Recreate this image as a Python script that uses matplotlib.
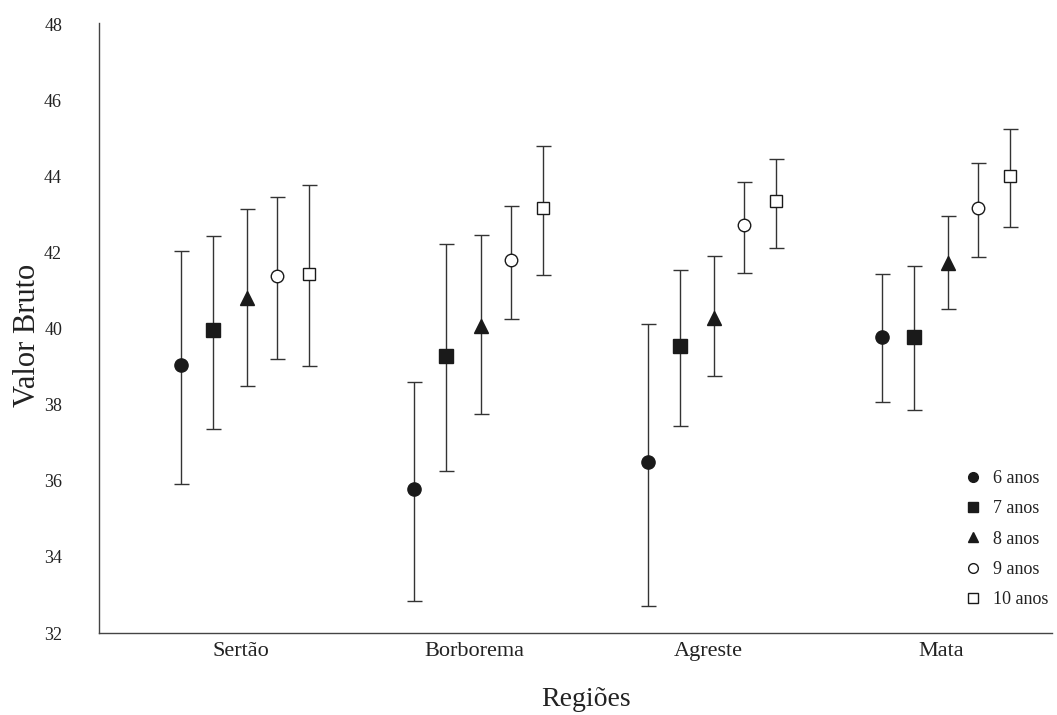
import matplotlib
matplotlib.use("Agg")
import matplotlib.pyplot as plt
from matplotlib.lines import Line2D
import numpy as np

plt.rcParams['font.family'] = ['Liberation Serif', 'DejaVu Serif']

regions = ["Sertão", "Borborema", "Agreste", "Mata"]
ages = ["6 anos", "7 anos", "8 anos", "9 anos", "10 anos"]

# mean, lower and upper limits per age for each region
mean_6 = [39.05, 35.79, 36.49, 39.80]
low_6 = [35.92, 32.85, 32.72, 38.07]
up_6 = [42.06, 38.60, 40.14, 41.45]

mean_7 = [39.96, 39.30, 39.55, 39.80]
low_7 = [37.37, 36.26, 37.44, 37.87]
up_7 = [42.45, 42.23, 41.55, 41.65]

mean_8 = [40.82, 40.09, 40.30, 41.73]
low_8 = [38.49, 37.76, 38.76, 40.53]
up_8 = [43.15, 42.48, 41.92, 42.98]

mean_9 = [41.39, 41.82, 42.73, 43.18]
low_9 = [39.22, 40.27, 41.48, 41.89]
up_9 = [43.46, 43.23, 43.87, 44.36]

mean_10 = [41.44, 43.18, 43.37, 44.03]
low_10 = [39.03, 41.42, 42.12, 42.68]
up_10 = [43.79, 44.82, 44.48, 45.26]

yticks = [32, 34, 36, 38, 40, 42, 44, 46, 48]

series = [
    (mean_6, low_6, up_6),
    (mean_7, low_7, up_7),
    (mean_8, low_8, up_8),
    (mean_9, low_9, up_9),
    (mean_10, low_10, up_10),
]
markers = ['o', 's', '^', 'o', 's']
faces = ['#1a1a1a', '#1a1a1a', '#1a1a1a', 'white', 'white']
msizes = [9.5, 9.5, 10, 9, 9]
offsets = np.array([-60, -28, 6, 36, 68]) / 233.5

W, H = 1057, 715
fig = plt.figure(figsize=(W / 100, H / 100), dpi=100)
ax = fig.add_axes([99 / W, (H - 633) / H, (1052 - 99) / W, (633 - 23) / H])

x = np.arange(len(regions))
ecol = '#333333'
for (m, lo, up), mk, fc, ms, off in zip(series, markers, faces, msizes, offsets):
    m = np.array(m); lo = np.array(lo); up = np.array(up)
    ax.errorbar(x + off, m, yerr=[m - lo, up - m], fmt=mk, mfc=fc, mec='#1a1a1a',
                mew=1.0, ms=ms, ecolor=ecol, elinewidth=1.0, capsize=5.4,
                capthick=1.0, zorder=3)

ax.set_xlim(-0.608, 3.473)
ax.set_ylim(32, 48.05)
ax.set_yticks(yticks)
ax.set_xticks(x)
ax.set_xticklabels(regions)
for s in ['top', 'right']:
    ax.spines[s].set_visible(False)
for s in ['left', 'bottom']:
    ax.spines[s].set_color('#444444')
    ax.spines[s].set_linewidth(1.0)
ax.tick_params(axis='y', length=0, pad=26.6, labelsize=13, labelcolor='#222222')
ax.tick_params(axis='x', length=0, pad=6.5, labelsize=16, labelcolor='#222222')

ax.set_ylabel('Valor Bruto', fontsize=22, color='#222222')
ax.yaxis.set_label_coords(-0.0602, 0.4885)
ax.set_xlabel('Regiões', fontsize=20, color='#222222')
ax.xaxis.set_label_coords(0.511, -0.0885)

handles = [Line2D([], [], linestyle='none', marker=mk, mfc=fc, mec='#1a1a1a',
                  mew=1.0, ms=7) for mk, fc in zip(markers, faces)]
leg = ax.legend(handles, ages, loc='upper left', bbox_to_anchor=(964 / W, 1 - 470 / H),
                bbox_transform=fig.transFigure, frameon=False, fontsize=13,
                handlelength=1.0, handletextpad=0.6, labelspacing=0.74,
                borderpad=0, borderaxespad=0)
for t in leg.get_texts():
    t.set_color('#222222')

fig.savefig('out.png', dpi=100)
